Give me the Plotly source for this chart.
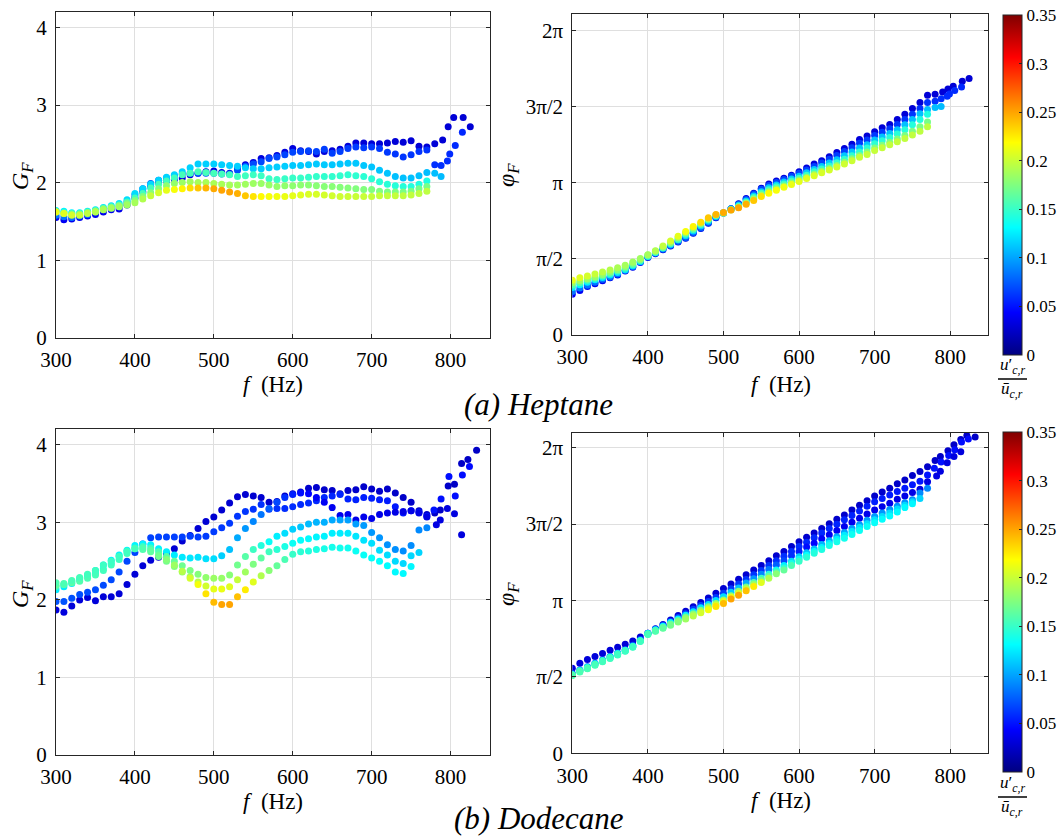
import plotly.graph_objects as go
import math

W, H = 1062, 837

# ---------------- frequency grid (Hz) ----------------
F_GRID = [300, 310, 320, 330, 340, 350, 360, 370, 380, 390,
          400, 410, 420, 430, 440, 450, 460, 470, 480, 490,
          500, 510, 520, 530, 540, 550, 560, 570, 580, 590,
          600, 610, 620, 630, 640, 650, 660, 670, 680, 690,
          700, 710, 720, 730, 740, 750, 760, 770, 780]

# ================= HEPTANE =================
HEP_GAIN_1 = [1.55,1.52,1.53,1.55,1.57,1.59,1.62,1.65,1.66,1.71,
              1.80,1.88,1.95,2.00,2.02,2.04,2.06,2.10,2.12,2.14,
              2.15,2.13,2.12,2.18,2.23,2.26,2.31,2.32,2.35,2.39,
              2.44,2.41,2.40,2.37,2.40,2.41,2.43,2.47,2.51,2.51,
              2.50,2.50,2.51,2.53,2.52,2.54,2.47,2.46,2.50]
HEP_PHASE_1 = [0.84,0.92,1.00,1.06,1.12,1.18,1.24,1.32,1.40,1.50,
               1.60,1.68,1.76,1.84,1.92,2.00,2.10,2.20,2.31,2.42,
               2.52,2.61,2.71,2.82,2.93,3.03,3.12,3.18,3.24,3.30,
               3.37,3.45,3.53,3.60,3.68,3.77,3.85,3.94,4.04,4.11,
               4.20,4.28,4.35,4.45,4.56,4.68,4.80,4.95,4.97]
HEP_AMP_1 = [0.040,0.040,0.039,0.039,0.038,0.038,0.038,0.037,0.037,0.036,
             0.036,0.036,0.035,0.035,0.035,0.035,0.034,0.034,0.034,0.034,
             0.034,0.033,0.033,0.033,0.033,0.033,0.032,0.032,0.032,0.032,
             0.032,0.032,0.031,0.031,0.031,0.031,0.031,0.031,0.031,0.030,
             0.030,0.030,0.030,0.030,0.030,0.030,0.030,0.030,0.030]
HEP_TAIL_F_1 = [790, 797, 804, 816, 825]
HEP_TAIL_GAIN_1 = [2.55, 2.72, 2.84, 2.84, 2.72]
HEP_TAIL_PHASE_1 = [5.02, 5.08, 5.14, 5.24, 5.30]
HEP_TAIL_AMP_1 = [0.030, 0.030, 0.030, 0.029, 0.029]

HEP_GAIN_2 = [1.58,1.56,1.55,1.57,1.59,1.62,1.65,1.67,1.69,1.75,
              1.84,1.92,1.99,2.03,2.06,2.09,2.11,2.12,2.12,2.12,
              2.12,2.11,2.11,2.16,2.21,2.24,2.27,2.31,2.33,2.36,
              2.39,2.40,2.41,2.40,2.43,2.38,2.40,2.44,2.46,2.45,
              2.46,2.44,2.39,2.37,2.33,2.36,2.40,2.42,2.23]
HEP_PHASE_2 = [0.90,0.97,1.03,1.09,1.15,1.20,1.26,1.33,1.41,1.51,
               1.61,1.69,1.77,1.85,1.93,2.01,2.11,2.21,2.32,2.43,
               2.52,2.61,2.70,2.80,2.91,3.01,3.09,3.15,3.21,3.28,
               3.34,3.41,3.48,3.55,3.63,3.71,3.79,3.87,3.96,4.03,
               4.12,4.19,4.26,4.35,4.45,4.56,4.68,4.80,4.83]
HEP_AMP_2 = [0.085,0.085,0.084,0.083,0.082,0.081,0.080,0.079,0.078,0.077,
             0.076,0.075,0.074,0.074,0.073,0.073,0.072,0.072,0.072,0.071,
             0.071,0.070,0.070,0.070,0.069,0.069,0.068,0.068,0.068,0.067,
             0.067,0.066,0.066,0.066,0.065,0.065,0.065,0.064,0.064,0.064,
             0.063,0.063,0.063,0.062,0.062,0.062,0.061,0.061,0.060]
HEP_TAIL_F_2 = [788, 796, 799, 806, 815]
HEP_TAIL_GAIN_2 = [2.22, 2.28, 2.37, 2.48, 2.65]
HEP_TAIL_PHASE_2 = [4.88, 4.93, 4.98, 5.05, 5.12]
HEP_TAIL_AMP_2 = [0.060, 0.059, 0.058, 0.058, 0.057]

HEP_GAIN_3 = [1.64,1.63,1.61,1.61,1.63,1.65,1.68,1.70,1.73,1.78,
              1.86,1.92,1.98,2.03,2.07,2.10,2.14,2.19,2.24,2.24,
              2.24,2.23,2.22,2.21,2.19,2.18,2.18,2.19,2.20,2.21,
              2.22,2.22,2.23,2.24,2.23,2.23,2.24,2.25,2.25,2.22,
              2.20,2.16,2.12,2.08,2.06,2.06,2.09,2.13,2.12]
HEP_PHASE_3 = [0.98,1.04,1.09,1.14,1.19,1.24,1.29,1.35,1.43,1.52,
               1.62,1.70,1.79,1.87,1.96,2.05,2.15,2.25,2.35,2.45,
               2.52,2.60,2.68,2.77,2.87,2.96,3.04,3.10,3.16,3.22,
               3.28,3.35,3.42,3.48,3.55,3.62,3.70,3.78,3.86,3.93,
               4.03,4.09,4.16,4.24,4.34,4.45,4.57,4.66,4.70]
HEP_AMP_3 = [0.128,0.128,0.127,0.126,0.125,0.124,0.123,0.122,0.121,0.120,
             0.119,0.118,0.118,0.117,0.117,0.116,0.116,0.116,0.115,0.115,
             0.115,0.115,0.115,0.115,0.115,0.114,0.114,0.114,0.114,0.114,
             0.113,0.113,0.113,0.113,0.113,0.112,0.112,0.112,0.112,0.112,
             0.111,0.111,0.111,0.110,0.110,0.110,0.110,0.109,0.109]
HEP_TAIL_F_3 = [788]
HEP_TAIL_GAIN_3 = [2.08]
HEP_TAIL_PHASE_3 = [4.72]
HEP_TAIL_AMP_3 = [0.108]

HEP_GAIN_4 = [1.63,1.61,1.60,1.60,1.62,1.64,1.67,1.69,1.71,1.75,
              1.80,1.86,1.93,1.98,2.02,2.06,2.10,2.12,2.14,2.13,
              2.12,2.11,2.10,2.08,2.09,2.10,2.09,2.05,2.04,2.05,
              2.06,2.06,2.07,2.08,2.08,2.08,2.09,2.10,2.09,2.08,
              2.05,2.01,1.98,1.96,1.95,1.95,1.98,2.02]
HEP_PHASE_4 = [1.03,1.08,1.13,1.17,1.22,1.27,1.32,1.38,1.45,1.54,
               1.63,1.71,1.80,1.89,1.98,2.08,2.18,2.28,2.38,2.47,
               2.52,2.59,2.66,2.74,2.84,2.93,3.00,3.06,3.12,3.18,
               3.24,3.30,3.37,3.43,3.49,3.56,3.63,3.70,3.78,3.86,
               3.95,4.01,4.08,4.15,4.24,4.34,4.45,4.56]
HEP_AMP_4 = [0.160,0.160,0.159,0.158,0.157,0.156,0.155,0.155,0.154,0.154,
             0.154,0.154,0.154,0.154,0.154,0.154,0.155,0.155,0.155,0.155,
             0.155,0.154,0.154,0.153,0.153,0.152,0.152,0.151,0.151,0.150,
             0.150,0.150,0.149,0.149,0.148,0.148,0.148,0.147,0.147,0.146,
             0.146,0.145,0.145,0.144,0.144,0.143,0.142,0.141]

HEP_GAIN_5 = [1.62,1.60,1.59,1.59,1.61,1.63,1.66,1.68,1.70,1.73,
              1.77,1.82,1.87,1.92,1.96,1.99,2.00,2.01,2.00,2.00,
              1.99,1.98,1.97,1.97,1.98,1.99,1.99,1.97,1.95,1.96,
              1.96,1.97,1.97,1.96,1.95,1.95,1.94,1.93,1.92,1.91,
              1.91,1.89,1.88,1.88,1.88,1.89,1.92,1.95]
HEP_PHASE_5 = [1.08,1.12,1.16,1.20,1.25,1.30,1.35,1.41,1.48,1.56,
               1.65,1.73,1.82,1.91,2.01,2.11,2.21,2.31,2.40,2.48,
               2.52,2.58,2.64,2.72,2.81,2.89,2.96,3.02,3.08,3.14,
               3.20,3.26,3.32,3.38,3.44,3.50,3.57,3.64,3.71,3.78,
               3.86,3.92,3.98,4.05,4.12,4.21,4.30,4.40]
HEP_AMP_5 = [0.185,0.184,0.183,0.182,0.180,0.178,0.176,0.175,0.174,0.174,
             0.175,0.176,0.177,0.178,0.180,0.182,0.184,0.186,0.188,0.189,
             0.190,0.189,0.188,0.187,0.186,0.185,0.184,0.183,0.182,0.181,
             0.180,0.180,0.179,0.179,0.178,0.178,0.177,0.177,0.176,0.176,
             0.175,0.175,0.174,0.174,0.173,0.173,0.172,0.172]

HEP_GAIN_6 = [1.62,1.60,1.58,1.58,1.60,1.62,1.65,1.67,1.69,1.71,
              1.74,1.79,1.83,1.87,1.90,1.91,1.92,1.93,1.93,1.93,
              1.92,1.90,1.88,1.86,1.83,1.82,1.82,1.82,1.82,1.82,
              1.83,1.84,1.85,1.85,1.84,1.83,1.82,1.82,1.82,1.82,
              1.82,1.83,1.83,1.83,1.83,1.84,1.86,1.89]
HEP_PHASE_6 = [1.13,1.18,1.22,1.26,1.30,1.34,1.39,1.44,1.51,1.58,
               1.66,1.74,1.84,1.94,2.04,2.14,2.24,2.33,2.42,2.49,
               2.53,2.58,2.63,2.70,2.78,2.86,2.93,2.99,3.05,3.11,
               3.17,3.23,3.29,3.35,3.41,3.47,3.53,3.60,3.67,3.73,
               3.81,3.87,3.93,3.99,4.06,4.13,4.21,4.30]
HEP_AMP_6 = [0.212,0.208,0.204,0.200,0.196,0.193,0.190,0.188,0.186,0.186,
             0.188,0.192,0.198,0.204,0.210,0.216,0.222,0.230,0.238,0.244,
             0.248,0.250,0.250,0.246,0.238,0.228,0.220,0.216,0.214,0.212,
             0.210,0.208,0.206,0.205,0.204,0.203,0.202,0.201,0.200,0.200,
             0.199,0.199,0.198,0.198,0.197,0.197,0.196,0.196]

# ================= DODECANE =================
DOD_GAIN_A = [1.87,1.84,1.92,2.00,2.03,1.99,2.04,2.04,2.08,2.20,
              2.33,2.44,2.51,2.55,2.60,2.66,2.76,2.83,2.92,3.01,
              3.07,3.16,3.25,3.33,3.36,3.34,3.32,3.26,3.27,3.34,
              3.37,3.39,3.44,3.45,3.42,3.41,3.37,3.41,3.42,3.46,
              3.43,3.40,3.43,3.38,3.32,3.26,3.15,3.10]
DOD_PHASE_A = [1.75,1.85,1.93,1.99,2.05,2.12,2.18,2.24,2.31,2.39,
               2.47,2.56,2.65,2.74,2.83,2.92,3.01,3.10,3.19,3.29,
               3.39,3.48,3.58,3.67,3.77,3.86,3.96,4.06,4.15,4.25,
               4.35,4.44,4.53,4.62,4.72,4.81,4.90,5.00,5.10,5.19,
               5.29,5.37,5.45,5.54,5.62,5.71,5.79,5.89]
DOD_AMP_A = [0.032,0.032,0.031,0.031,0.031,0.031,0.030,0.030,0.030,0.030,
             0.030,0.030,0.030,0.029,0.029,0.029,0.029,0.029,0.029,0.029,
             0.028,0.028,0.028,0.028,0.028,0.028,0.028,0.027,0.027,0.027,
             0.027,0.027,0.027,0.027,0.026,0.026,0.026,0.026,0.026,0.026,
             0.026,0.026,0.025,0.025,0.025,0.025,0.025,0.025]
DOD_TAIL_F_A = [780, 787, 797, 805, 814, 822, 833]
DOD_TAIL_GAIN_A = [3.12, 3.16, 3.47, 3.49, 3.76, 3.81, 3.93]
DOD_TAIL_PHASE_A = [6.02, 6.10, 6.22, 6.34, 6.45, 6.53, 6.50]
DOD_TAIL_AMP_A = [0.025, 0.025, 0.025, 0.024, 0.024, 0.024, 0.024]

DOD_GAIN_B = [1.98,1.98,2.02,2.07,2.10,2.13,2.19,2.26,2.36,2.50,
              2.61,2.72,2.80,2.81,2.81,2.81,2.81,2.82,2.81,2.82,
              2.88,2.93,2.99,3.08,3.14,3.17,3.23,3.17,3.18,3.18,
              3.20,3.23,3.25,3.28,3.32,3.34,3.36,3.30,3.29,3.32,
              3.31,3.29,3.28,3.20,3.12,3.15,3.13,3.08]
DOD_PHASE_B = [1.64,1.71,1.78,1.85,1.92,1.99,2.06,2.13,2.22,2.34,
               2.47,2.55,2.63,2.71,2.79,2.87,2.96,3.04,3.12,3.20,
               3.29,3.38,3.48,3.57,3.67,3.76,3.86,3.96,4.05,4.15,
               4.25,4.34,4.43,4.53,4.62,4.71,4.80,4.89,4.98,5.08,
               5.17,5.24,5.31,5.38,5.45,5.52,5.59,5.72]
DOD_AMP_B = [0.072,0.072,0.071,0.071,0.070,0.070,0.069,0.069,0.068,0.068,
             0.067,0.067,0.066,0.066,0.066,0.065,0.065,0.065,0.064,0.064,
             0.064,0.063,0.063,0.062,0.062,0.061,0.061,0.060,0.060,0.059,
             0.059,0.058,0.058,0.057,0.057,0.056,0.056,0.055,0.055,0.054,
             0.054,0.053,0.053,0.052,0.052,0.051,0.051,0.050]
DOD_TAIL_F_B = [779, 788, 798, 806, 815, 824]
DOD_TAIL_GAIN_B = [3.16, 3.30, 3.59, 3.34, 3.61, 3.72]
DOD_TAIL_PHASE_B = [5.86, 5.99, 6.12, 6.24, 6.40, 6.46]
DOD_TAIL_AMP_B = [0.050, 0.049, 0.049, 0.048, 0.048, 0.047]

DOD_GAIN_C = [2.13,2.17,2.21,2.26,2.31,2.38,2.45,2.51,2.58,2.64,
              2.70,2.72,2.71,2.66,2.62,2.58,2.55,2.54,2.55,2.53,
              2.53,2.57,2.65,2.80,2.92,3.01,3.10,3.18,3.26,3.32,
              3.36,3.38,3.37,3.32,3.26,3.19,3.09,3.10,3.03,3.07,
              3.05,3.10,3.12,3.13,3.14,3.15,3.12,3.07]
DOD_PHASE_C = [1.62,1.70,1.77,1.84,1.91,1.98,2.05,2.12,2.20,2.32,
               2.46,2.54,2.61,2.69,2.76,2.84,2.91,2.99,3.06,3.14,
               3.22,3.31,3.40,3.50,3.59,3.68,3.78,3.87,3.96,4.06,
               4.15,4.24,4.32,4.41,4.49,4.58,4.66,4.75,4.83,4.92,
               5.00,5.07,5.14,5.22,5.29,5.36,5.43,5.58]
DOD_AMP_C = [0.125,0.125,0.125,0.126,0.126,0.127,0.127,0.128,0.128,0.128,
             0.128,0.128,0.128,0.127,0.126,0.125,0.124,0.123,0.122,0.121,
             0.120,0.115,0.110,0.102,0.096,0.090,0.084,0.076,0.068,0.060,
             0.054,0.048,0.044,0.042,0.040,0.039,0.038,0.038,0.037,0.037,
             0.036,0.036,0.036,0.035,0.035,0.035,0.034,0.034]
DOD_TAIL_F_C = [782, 787, 796, 805, 814]
DOD_TAIL_GAIN_C = [2.97, 3.03, 3.18, 3.11, 2.84]
DOD_TAIL_PHASE_C = [5.70, 5.80, 5.97, 6.10, 6.20]
DOD_TAIL_AMP_C = [0.034, 0.033, 0.033, 0.033, 0.032]

DOD_GAIN_D = [2.17,2.20,2.24,2.28,2.32,2.34,2.40,2.47,2.56,2.63,
              2.67,2.69,2.67,2.62,2.56,2.50,2.44,2.38,2.33,2.29,
              2.28,2.28,2.32,2.45,2.56,2.65,2.70,2.75,2.82,2.86,
              2.91,2.94,2.98,3.00,3.00,3.03,3.03,3.03,2.98,2.96,
              2.87,2.80,2.71,2.65,2.63,2.70,2.90,2.93]
DOD_PHASE_D = [1.61,1.69,1.76,1.83,1.90,1.97,2.04,2.11,2.19,2.31,
               2.45,2.52,2.59,2.66,2.73,2.80,2.87,2.94,3.01,3.08,
               3.15,3.24,3.33,3.42,3.51,3.60,3.68,3.77,3.86,3.95,
               4.04,4.12,4.20,4.29,4.37,4.45,4.54,4.62,4.70,4.79,
               4.87,4.94,5.01,5.08,5.15,5.21,5.35,5.45]
DOD_AMP_D = [0.150,0.148,0.146,0.145,0.144,0.143,0.143,0.143,0.144,0.145,
             0.147,0.150,0.153,0.157,0.161,0.165,0.169,0.173,0.177,0.181,
             0.184,0.183,0.178,0.170,0.161,0.152,0.143,0.134,0.126,0.120,
             0.115,0.111,0.108,0.106,0.104,0.102,0.100,0.099,0.098,0.097,
             0.096,0.095,0.094,0.093,0.092,0.092,0.091,0.090]

DOD_GAIN_DY = [2.19,2.20,2.22,2.24,2.28,2.32,2.38,2.45,2.52,2.60,
               2.66,2.67,2.64,2.58,2.50,2.43,2.36,2.30,2.23,2.18,
               2.14,2.14,2.17,2.26,2.36,2.46,2.54,2.62,2.65,2.69,
               2.73,2.77,2.79,2.81,2.82,2.86,2.86,2.86,2.82,2.77,
               2.73,2.64,2.58,2.50,2.47,2.57,2.61]
DOD_PHASE_DY = [1.61,1.68,1.75,1.82,1.89,1.96,2.03,2.11,2.19,2.31,
                2.45,2.52,2.58,2.65,2.71,2.78,2.85,2.91,2.98,3.05,
                3.12,3.21,3.29,3.38,3.47,3.55,3.64,3.73,3.81,3.90,
                3.99,4.07,4.15,4.23,4.31,4.40,4.48,4.56,4.64,4.72,
                4.80,4.87,4.94,5.02,5.10,5.17,5.24]
DOD_AMP_DY = [0.165,0.163,0.161,0.159,0.157,0.155,0.154,0.153,0.153,0.154,
              0.155,0.158,0.162,0.166,0.171,0.176,0.181,0.187,0.195,0.203,
              0.210,0.212,0.208,0.198,0.186,0.174,0.163,0.153,0.146,0.140,
              0.135,0.132,0.130,0.128,0.127,0.126,0.125,0.124,0.123,0.122,
              0.121,0.120,0.120,0.119,0.118,0.118,0.117]

DOD_GAIN_E = [2.22,2.21,2.25,2.29,2.33,2.38,2.45,2.50,2.56,2.62,
              2.66,2.65,2.62,2.56,2.52,2.45,2.37,2.28,2.20,2.08,
              1.97,1.94,1.94,2.04,2.13,2.23,2.31,2.38,2.44,2.52,
              2.59,2.62,2.63,2.65,2.66,2.68,2.67,2.67,2.63,2.58,
              2.54,2.50,2.44,2.36,2.34,2.43]
DOD_PHASE_E = [1.60,1.67,1.74,1.81,1.88,1.95,2.02,2.10,2.18,2.30,
               2.44,2.51,2.57,2.63,2.70,2.76,2.82,2.89,2.95,3.02,
               3.08,3.17,3.25,3.34,3.43,3.51,3.60,3.69,3.77,3.86,
               3.95,4.03,4.11,4.19,4.27,4.35,4.42,4.50,4.58,4.66,
               4.74,4.81,4.88,4.96,5.05,5.13]
DOD_AMP_E = [0.158,0.157,0.156,0.155,0.154,0.153,0.152,0.152,0.152,0.153,
             0.155,0.159,0.164,0.170,0.177,0.185,0.194,0.204,0.215,0.228,
             0.242,0.250,0.250,0.240,0.225,0.208,0.192,0.178,0.166,0.157,
             0.150,0.146,0.143,0.141,0.139,0.138,0.137,0.136,0.135,0.134,
             0.133,0.132,0.131,0.130,0.130,0.129]

# ---------------- ticks ----------------
X_TICKS = [300, 400, 500, 600, 700, 800]
GAIN_TICKS = [0, 1, 2, 3, 4]
PHASE_TICKS = [0, math.pi / 2, math.pi, 3 * math.pi / 2, 2 * math.pi]
PHASE_TICK_TEXT = ["0", "π/2", "π", "3π/2", "2π"]
CBAR_TICKS = [0, 0.05, 0.1, 0.15, 0.2, 0.25, 0.3, 0.35]
CBAR_TICK_TEXT = ["0", "0.05", "0.1", "0.15", "0.2", "0.25", "0.3", "0.35"]
AMP_MIN, AMP_MAX = 0.0, 0.35

JET = [[0.0, "rgb(0,0,128)"], [0.125, "rgb(0,0,255)"], [0.375, "rgb(0,255,255)"],
       [0.625, "rgb(255,255,0)"], [0.875, "rgb(255,0,0)"], [1.0, "rgb(128,0,0)"]]


def build(gain, phase, amp, tf=None, tg=None, tp=None, ta=None):
    n = min(len(gain), len(phase), len(amp))
    f = F_GRID[:n]
    g, p, a = gain[:n], phase[:n], amp[:n]
    if tf:
        f = f + tf
        g = g + tg
        p = p + tp
        a = a + ta
    return f, g, p, a


HEP_ROWS = [
    build(HEP_GAIN_1, HEP_PHASE_1, HEP_AMP_1, HEP_TAIL_F_1, HEP_TAIL_GAIN_1, HEP_TAIL_PHASE_1, HEP_TAIL_AMP_1),
    build(HEP_GAIN_2, HEP_PHASE_2, HEP_AMP_2, HEP_TAIL_F_2, HEP_TAIL_GAIN_2, HEP_TAIL_PHASE_2, HEP_TAIL_AMP_2),
    build(HEP_GAIN_3, HEP_PHASE_3, HEP_AMP_3, HEP_TAIL_F_3, HEP_TAIL_GAIN_3, HEP_TAIL_PHASE_3, HEP_TAIL_AMP_3),
    build(HEP_GAIN_4, HEP_PHASE_4, HEP_AMP_4),
    build(HEP_GAIN_5, HEP_PHASE_5, HEP_AMP_5),
    build(HEP_GAIN_6, HEP_PHASE_6, HEP_AMP_6),
]
DOD_ROWS = [
    build(DOD_GAIN_A, DOD_PHASE_A, DOD_AMP_A, DOD_TAIL_F_A, DOD_TAIL_GAIN_A, DOD_TAIL_PHASE_A, DOD_TAIL_AMP_A),
    build(DOD_GAIN_B, DOD_PHASE_B, DOD_AMP_B, DOD_TAIL_F_B, DOD_TAIL_GAIN_B, DOD_TAIL_PHASE_B, DOD_TAIL_AMP_B),
    build(DOD_GAIN_C, DOD_PHASE_C, DOD_AMP_C, DOD_TAIL_F_C, DOD_TAIL_GAIN_C, DOD_TAIL_PHASE_C, DOD_TAIL_AMP_C),
    build(DOD_GAIN_D, DOD_PHASE_D, DOD_AMP_D),
    build(DOD_GAIN_DY, DOD_PHASE_DY, DOD_AMP_DY),
    build(DOD_GAIN_E, DOD_PHASE_E, DOD_AMP_E),
]

fig = go.Figure()
MS = 7


def add_rows(rows, xg, yg, xp, yp, cax):
    for f, g, p, a in rows:
        fig.add_trace(go.Scatter(x=f, y=g, mode="markers", xaxis=xg, yaxis=yg,
                                 marker=dict(size=MS, color=a, coloraxis=cax, line=dict(width=0)),
                                 showlegend=False, hoverinfo="x+y"))
    for f, g, p, a in rows:
        fig.add_trace(go.Scatter(x=f, y=p, mode="markers", xaxis=xp, yaxis=yp,
                                 marker=dict(size=MS, color=a, coloraxis=cax, line=dict(width=0)),
                                 showlegend=False, hoverinfo="x+y"))


add_rows(HEP_ROWS, "x", "y", "x2", "y2", "coloraxis")
add_rows(DOD_ROWS, "x3", "y3", "x4", "y4", "coloraxis2")

FONT = "Liberation Serif, Times New Roman, DejaVu Serif, serif"
AX_COL = "rgb(38,38,38)"
GRID_COL = "rgb(223,223,223)"


def px(x):
    return x / W


def py(y):
    return 1 - y / H


def xaxis(dom, anchor):
    return dict(domain=dom, anchor=anchor, range=[300, 850], tickvals=X_TICKS,
                ticks="inside", ticklen=4, tickcolor=AX_COL, mirror="ticks",
                showline=True, linecolor=AX_COL, linewidth=1, showgrid=True,
                gridcolor=GRID_COL, gridwidth=1, zeroline=False, automargin=False,
                tickfont=dict(family=FONT, size=21, color="black"),
                ticklabelstandoff=3, fixedrange=True)


def yaxis(dom, anchor, rng, vals, text=None):
    d = dict(domain=dom, anchor=anchor, range=rng, tickvals=vals,
             ticks="inside", ticklen=4, tickcolor=AX_COL, mirror="ticks",
             showline=True, linecolor=AX_COL, linewidth=1, showgrid=True,
             gridcolor=GRID_COL, gridwidth=1, zeroline=False, automargin=False,
             tickfont=dict(family=FONT, size=21, color="black"),
             ticklabelstandoff=4, fixedrange=True)
    if text is not None:
        d["ticktext"] = text
    return d


def cbar(top, bottom):
    return dict(x=px(1003), xanchor="left", xref="paper", xpad=0,
                y=py((top + bottom) / 2), yanchor="middle", yref="paper", ypad=0,
                len=(bottom - top) / H, lenmode="fraction",
                thickness=19, thicknessmode="pixels",
                outlinewidth=1, outlinecolor=AX_COL,
                tickvals=CBAR_TICKS, ticktext=CBAR_TICK_TEXT,
                ticks="inside", ticklen=3, tickcolor=AX_COL,
                tickfont=dict(family=FONT, size=17, color="black"))


LX = [px(56), px(490)]
RX = [px(572.3), px(988)]

fig.update_layout(
    width=W, height=H, autosize=False,
    margin=dict(l=0, r=0, t=0, b=0, pad=0, autoexpand=False),
    paper_bgcolor="white", plot_bgcolor="white",
    font=dict(family=FONT, color="black", size=17),
    showlegend=False,
    xaxis=xaxis(LX, "y"),
    yaxis=yaxis([py(337.7), py(12)], "x", [0, 4.2], GAIN_TICKS),
    xaxis2=xaxis(RX, "y2"),
    yaxis2=yaxis([py(335), py(14)], "x2", [0, 6.63], PHASE_TICKS, PHASE_TICK_TEXT),
    xaxis3=xaxis(LX, "y3"),
    yaxis3=yaxis([py(755), py(429.3)], "x3", [0, 4.2], GAIN_TICKS),
    xaxis4=xaxis(RX, "y4"),
    yaxis4=yaxis([py(753.3), py(432.7)], "x4", [0, 6.59], PHASE_TICKS, PHASE_TICK_TEXT),
    coloraxis=dict(colorscale=JET, cmin=AMP_MIN, cmax=AMP_MAX, colorbar=cbar(15, 355)),
    coloraxis2=dict(colorscale=JET, cmin=AMP_MIN, cmax=AMP_MAX, colorbar=cbar(432, 772)),
)

ann = []


def text(x, y, s, size, angle=0):
    ann.append(dict(x=px(x), y=py(y), xref="paper", yref="paper", text=s,
                    showarrow=False, xanchor="center", yanchor="middle",
                    textangle=angle, font=dict(family=FONT, size=size, color="black")))


GF = "<i>G</i><sub><i>F</i></sub>"
PHIF = "<i>φ</i><sub><i>F</i></sub>"
FHZ = "<i>f</i>\u2002(Hz)"

text(22, 176, GF, 24, -90)
text(22, 594, GF, 24, -90)
text(508, 175, PHIF, 24, -90)
text(508, 594, PHIF, 24, -90)
text(273, 385, FHZ, 23)
text(781, 384, FHZ, 23)
text(273, 801, FHZ, 23)
text(781, 800, FHZ, 23)
text(538, 404, "<i>(a) Heptane</i>", 31)
text(539, 818, "<i>(b) Dodecane</i>", 31)

NUM = "<i>u</i>′<sub><i>c,r</i></sub>"
DEN = "<i>ū</i><sub><i>c,r</i></sub>"
for bar_y in (379, 797):
    text(1012, bar_y - 13, NUM, 17)
    text(1012, bar_y + 11, DEN, 17)
    fig.add_shape(type="line", xref="paper", yref="paper",
                  x0=px(998), x1=px(1027), y0=py(bar_y), y1=py(bar_y),
                  line=dict(color="black", width=1.5))

fig.update_layout(annotations=ann)

fig.write_html("out.html",
               config={"displayModeBar": False, "staticPlot": False},
               post_script="document.body.style.margin='0';document.body.style.overflow='hidden';")
